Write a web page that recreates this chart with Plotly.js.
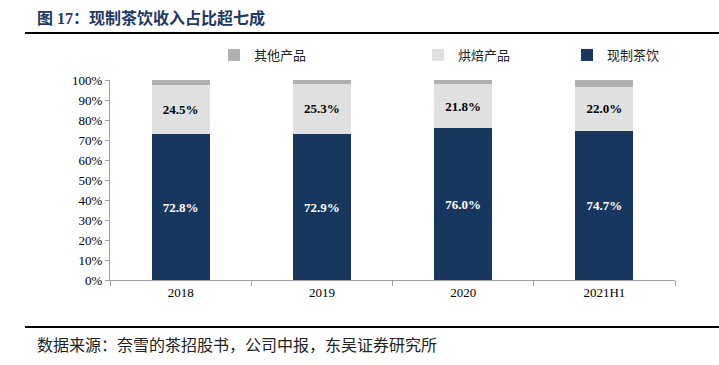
<!DOCTYPE html>
<html><head><meta charset="utf-8">
<script src="https://cdn.plot.ly/plotly-3.0.1.min.js"></script>
<style>body{margin:0;background:#fff}#c{width:719px;height:365px}</style>
</head><body><div id="c"></div>
<script>
const categories = ['2018','2019','2020','2021H1'];
const teaDrinks = [72.8, 72.9, 76.0, 74.7];
const bakery = [24.5, 25.3, 21.8, 22.0];
const others = [2.7, 1.8, 2.2, 3.3];
const seriesNames = ['现制茶饮','烘焙产品','其他产品'];
const tickVals = [0,10,20,30,40,50,60,70,80,90,100];
const tickText = tickVals.map(v => v + '%');

const serif = '"Liberation Serif", "Times New Roman", "Noto Sans CJK SC", serif';
const cjk = '"Liberation Serif", "Noto Sans CJK SC", serif';
const fmt = v => v.toFixed(1) + '%';

const traces = [
  {type:'bar', name:seriesNames[0], x:categories, y:teaDrinks, marker:{color:'#17375e'},
   text:teaDrinks.map(fmt), textposition:'inside', insidetextanchor:'middle',
   textfont:{family:serif, size:13, color:'#ffffff', weight:'bold'}, legend:'legend3', hoverinfo:'none'},
  {type:'bar', name:seriesNames[1], x:categories, y:bakery, marker:{color:'#e0e0e0'},
   text:bakery.map(fmt), textposition:'inside', insidetextanchor:'middle',
   textfont:{family:serif, size:13, color:'#000000', weight:'bold'}, legend:'legend2', hoverinfo:'none'},
  {type:'bar', name:seriesNames[2], x:categories, y:others, marker:{color:'#b0b0b0'},
   textposition:'none', legend:'legend', hoverinfo:'none'}
];

const px = x => (x - 110) / 565;
const py = y => (280 - y) / 200;
const legBase = {orientation:'h', yanchor:'middle', xanchor:'left', y:py(55), bgcolor:'rgba(0,0,0,0)',
  font:{family:cjk, size:13, color:'#222'}, itemwidth:30};

const layout = {
  width:719, height:365, margin:{l:110, r:44, t:80, b:85},
  paper_bgcolor:'#fff', plot_bgcolor:'#fff',
  barmode:'stack', bargap:0.59,
  showlegend:true,
  legend:Object.assign({}, legBase, {x:px(214)}),
  legend2:Object.assign({}, legBase, {x:px(418)}),
  legend3:Object.assign({}, legBase, {x:px(567)}),
  xaxis:{type:'category', showline:true, linecolor:'#a0a0a0', linewidth:1, ticks:'outside',
    tickson:'boundaries', ticklen:5, tickcolor:'#a0a0a0', showgrid:false,
    tickfont:{family:serif, size:13, color:'#000'}},
  yaxis:{range:[0,100], tickvals:tickVals, ticktext:tickText, showline:true, linecolor:'#a0a0a0',
    ticks:'outside', ticklen:4, tickcolor:'#a0a0a0', showgrid:false, zeroline:false,
    tickfont:{family:serif, size:13, color:'#000'}},
  annotations:[
    {text:'<b>图 17：现制茶饮收入占比超七成</b>', xref:'paper', yref:'paper', x:px(35), y:py(18),
     xanchor:'left', yanchor:'middle', showarrow:false,
     font:{family:cjk, size:16, color:'#1f3864'}},
    {text:'数据来源：奈雪的茶招股书，公司中报，东吴证券研究所', xref:'paper', yref:'paper', x:px(35), y:py(345),
     xanchor:'left', yanchor:'middle', showarrow:false,
     font:{family:cjk, size:16, color:'#222'}}
  ],
  shapes:[
    {type:'line', xref:'paper', yref:'paper', x0:px(25), x1:px(719), y0:py(33), y1:py(33), line:{color:'#000', width:2}},
    {type:'line', xref:'paper', yref:'paper', x0:px(25), x1:px(719), y0:py(327), y1:py(327), line:{color:'#000', width:2}}
  ]
};
Plotly.newPlot('c', traces, layout, {displayModeBar:false, staticPlot:true});
</script></body></html>
